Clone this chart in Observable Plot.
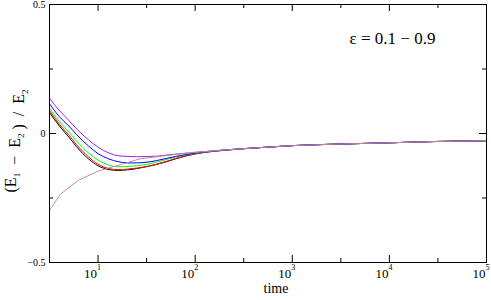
<!DOCTYPE html>
<html>
<head>
<meta charset="utf-8">
<script src="https://cdn.jsdelivr.net/npm/d3@7"></script>
<script src="https://cdn.jsdelivr.net/npm/@observablehq/plot@0.6"></script>
<style>
  html, body { margin: 0; padding: 0; background: white; }
</style>
</head>
<body>
<div id="chart"></div>
<script>
// Shared time samples for the five smooth curves
const times = [3.1623, 4, 5, 6, 8, 10, 13, 16, 20, 25, 32, 40, 50, 63, 100, 200, 500, 1000, 3000, 10000, 30000, 100000];
const blackVals  = [0.081, 0.029, -0.014, -0.051, -0.099, -0.125, -0.140, -0.143, -0.141, -0.136, -0.128, -0.120, -0.110, -0.098, -0.079, -0.065, -0.054, -0.047, -0.041, -0.036, -0.031, -0.028];
const redVals    = [0.089, 0.036, -0.006, -0.043, -0.091, -0.119, -0.136, -0.140, -0.138, -0.134, -0.128, -0.119, -0.109, -0.097, -0.079, -0.065, -0.054, -0.047, -0.041, -0.036, -0.031, -0.028];
const greenVals  = [0.098, 0.046, 0.006, -0.029, -0.076, -0.103, -0.123, -0.129, -0.128, -0.125, -0.119, -0.111, -0.101, -0.091, -0.077, -0.064, -0.054, -0.047, -0.041, -0.036, -0.031, -0.028];
const blueVals   = [0.115, 0.065, 0.029, -0.004, -0.049, -0.078, -0.099, -0.109, -0.114, -0.114, -0.111, -0.105, -0.097, -0.089, -0.076, -0.064, -0.054, -0.047, -0.041, -0.036, -0.031, -0.028];
const violetVals = [0.137, 0.089, 0.051, 0.018, -0.025, -0.053, -0.076, -0.086, -0.089, -0.090, -0.089, -0.088, -0.084, -0.080, -0.073, -0.064, -0.054, -0.047, -0.041, -0.036, -0.031, -0.028];
// The rosy-brown curve (coarser sampling)
const brownTimes = [3.1623, 4.1, 6.3, 10, 13, 17, 27, 43, 63, 100, 200, 500, 1000, 3000, 10000, 30000, 100000];
const brownVals  = [-0.298, -0.235, -0.181, -0.146, -0.133, -0.121, -0.098, -0.089, -0.081, -0.073, -0.064, -0.054, -0.047, -0.041, -0.036, -0.031, -0.028];

const seriesNames  = ["black", "red", "green", "blue", "violet"];
const seriesColors = ["#000000", "#ff0000", "#00ff00", "#0000ff", "#a020f0"];
const seriesVals   = [blackVals, redVals, greenVals, blueVals, violetVals];
const brownColor = "#bc8f8f";

const xMajor = [10, 100, 1000, 10000, 100000];
const xExp = ["1", "2", "3", "4", "5"];
const xMinor = [31.623, 316.23, 3162.3, 31623];
const yMajor = [-0.5, 0, 0.5];
const yLabels = ["\u22120.5", "0", "0.5"];
const yMinor = [-0.25, 0.25];
const legendText = "\u03b5 = 0.1 \u2212 0.9";
const xTitle = "time";

const FONT = "Liberation Serif";
const W = 491, H = 300, mL = 49, mR = 5, mT = 4, mB = 38;
const pH = H - mT - mB, pW = W - mL - mR;

const smooth = seriesNames.map((name, i) =>
  times.map((t, j) => ({t, v: seriesVals[i][j], name})));
const brown = brownTimes.map((t, j) => ({t, v: brownVals[j]}));

const marks = [];
smooth.forEach((d, i) => {
  marks.push(Plot.line(d, {x: "t", y: "v", stroke: seriesColors[i], strokeWidth: 1, curve: "monotone-x"}));
});
marks.push(Plot.line(brown, {x: "t", y: "v", stroke: brownColor, strokeWidth: 1}));
marks.push(Plot.frame({stroke: "black", strokeWidth: 1}));
// inward ticks on all four sides
marks.push(Plot.tickX(xMajor, {x: d => d, insetTop: pH - 7, stroke: "black"}));
marks.push(Plot.tickX(xMajor, {x: d => d, insetBottom: pH - 7, stroke: "black"}));
marks.push(Plot.tickX(xMinor, {x: d => d, insetTop: pH - 4, stroke: "black"}));
marks.push(Plot.tickX(xMinor, {x: d => d, insetBottom: pH - 4, stroke: "black"}));
marks.push(Plot.tickY(yMajor, {y: d => d, insetRight: pW - 7, stroke: "black"}));
marks.push(Plot.tickY(yMajor, {y: d => d, insetLeft: pW - 7, stroke: "black"}));
marks.push(Plot.tickY(yMinor, {y: d => d, insetRight: pW - 4, stroke: "black"}));
marks.push(Plot.tickY(yMinor, {y: d => d, insetLeft: pW - 4, stroke: "black"}));
// x tick labels: 10 with superscript exponent
marks.push(Plot.text(xMajor, {x: d => d, frameAnchor: "bottom", text: () => "10", textAnchor: "end", dx: -1, dy: 15, fontSize: 13, fontFamily: FONT}));
marks.push(Plot.text(xMajor, {x: d => d, frameAnchor: "bottom", text: (d, i) => xExp[i], textAnchor: "start", dx: -1, dy: 7, fontSize: 8, fontFamily: FONT}));
// y tick labels
marks.push(Plot.text(yMajor, {y: d => d, frameAnchor: "left", text: (d, i) => yLabels[i], textAnchor: "end", dx: -4, fontSize: 10, fontFamily: FONT}));
// legend annotation
marks.push(Plot.text([legendText], {frameAnchor: "top-right", text: d => d, textAnchor: "middle", dx: -94, dy: 27, fontSize: 17, fontFamily: FONT}));
// x title
marks.push(Plot.text([xTitle], {frameAnchor: "bottom", text: d => d, dx: 8, dy: 30, fontSize: 14, fontFamily: FONT}));

const chart = Plot.plot({
  width: W, height: H,
  marginLeft: mL, marginRight: mR, marginTop: mT, marginBottom: mB,
  x: {type: "log", domain: [Math.sqrt(10), 1e5], axis: null},
  y: {domain: [-0.5, 0.5], axis: null},
  style: {fontFamily: FONT, background: "white", color: "black"},
  marks
});

// y title with subscripts
const svg = d3.select(chart);
const yt = svg.append("text")
  .attr("transform", "translate(16,141) rotate(-90)")
  .attr("text-anchor", "middle")
  .attr("font-family", FONT)
  .attr("font-size", 16)
  .attr("fill", "black");
const nb = "\u00a0";
const parts = [["(E", false], ["1", true], [nb + nb + "\u2212" + nb + nb + "E", false], ["2", true], [nb + ")" + nb + nb + "/" + nb + nb + "E", false], ["2", true]];
parts.forEach(([s, sub]) => {
  yt.append("tspan")
    .attr("font-size", sub ? 9 : 16)
    .attr("dy", sub ? 4 : 0)
    .text(s);
  if (sub) yt.append("tspan").attr("dy", -4).text("");
});

document.getElementById("chart").appendChild(chart);
</script>
</body>
</html>
